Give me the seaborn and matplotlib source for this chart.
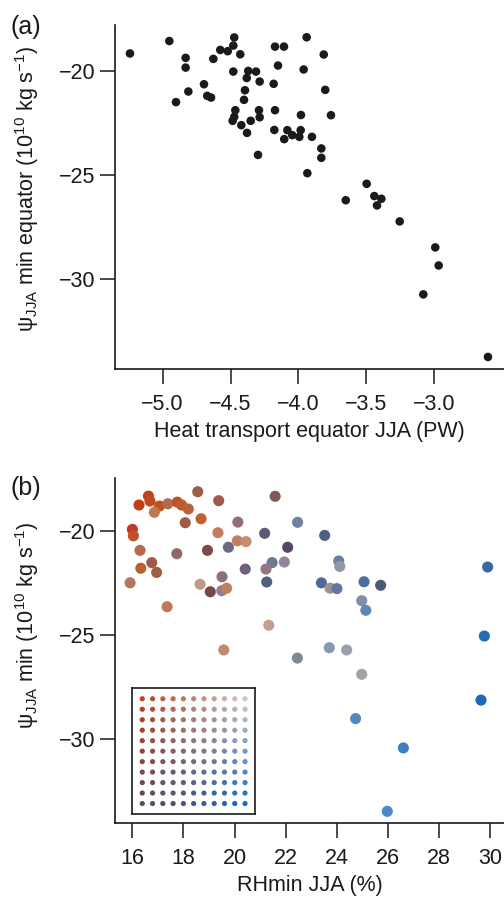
import numpy as np
import pandas as pd
import matplotlib
matplotlib.use("Agg")
import matplotlib.pyplot as plt
from matplotlib.colors import to_rgb
import seaborn as sns

# ---------------- data: panel (a) ----------------
heat_transport_a = [
    -5.241, -4.951, -4.831, -4.831, -4.902, -4.811, -4.696, -4.672, -4.644, -4.627,
    -4.576, -4.521, -4.480, -4.473, -4.429, -4.480, -4.370, -4.381, -4.313, -4.286,
    -4.394, -4.401, -4.465, -4.473, -4.485, -4.421, -4.379, -4.352, -4.291, -4.286,
    -4.298, -4.173, -4.107, -4.151, -4.183, -4.173, -4.178, -4.082, -4.105, -4.046,
    -3.994, -3.984, -3.982, -3.940, -3.962, -3.901, -3.814, -3.803, -3.761, -3.832,
    -3.832, -3.935, -3.652, -3.498, -3.442, -3.390, -3.422, -3.255, -2.993, -2.968,
    -3.081, -2.605,
]
psi_equator_a = [
    -19.17, -18.57, -19.38, -19.85, -21.51, -21.00, -20.65, -21.21, -21.29, -19.43,
    -19.00, -19.06, -18.79, -18.40, -19.21, -20.04, -20.01, -20.35, -20.04, -20.52,
    -20.94, -21.40, -21.90, -22.22, -22.41, -22.62, -22.99, -22.41, -21.90, -22.24,
    -24.05, -18.84, -18.84, -19.75, -20.63, -21.90, -22.85, -22.86, -23.29, -23.10,
    -23.18, -22.86, -22.13, -18.39, -19.94, -23.18, -19.22, -20.92, -22.14, -23.74,
    -24.19, -24.93, -26.23, -25.44, -26.03, -26.16, -26.48, -27.25, -28.50, -29.37,
    -30.76, -33.77,
]

# ---------------- data: panel (b) ----------------
rhmin_b = [
    18.56, 16.63, 16.69, 16.26, 17.06, 16.86, 17.39, 17.76, 17.93, 18.19,
    19.38, 21.59, 16.00, 16.04, 18.07, 18.69, 20.13, 19.35, 21.18, 22.47,
    16.30, 17.74, 18.94, 19.76, 20.11, 20.45, 22.08, 16.76, 16.33, 16.95,
    15.91, 19.51, 20.42, 21.47, 21.23, 21.95, 18.65, 19.05, 19.50, 19.69,
    21.26, 17.36, 21.34, 19.58,
    23.53, 24.08, 24.12, 23.40, 23.74, 24.01, 25.07, 25.72, 24.98, 25.14,
    29.91, 29.78, 23.71, 24.39,
    22.46, 24.98, 29.65, 24.74, 26.61, 25.98,
]
psi_min_b = [
    -18.11, -18.32, -18.56, -18.75, -18.80, -19.10, -18.69, -18.61, -18.75, -18.94,
    -18.54, -18.33, -19.92, -20.23, -19.60, -19.41, -19.57, -20.08, -20.11, -19.58,
    -20.93, -21.09, -20.93, -20.78, -20.47, -20.51, -20.78, -21.52, -21.79, -21.99,
    -22.49, -22.20, -21.83, -21.52, -21.83, -21.49, -22.56, -22.92, -22.87, -22.75,
    -22.45, -23.64, -24.53, -25.72,
    -20.21, -21.44, -21.70, -22.49, -22.75, -22.77, -22.44, -22.61, -23.35, -23.81,
    -21.73, -25.05, -25.61, -25.72,
    -26.11, -26.89, -28.13, -29.02, -30.43, -33.48,
]
# colour of each point (bivariate colour code)
point_colors_b = [
    "#a05a48", "#c0401a", "#c04a20", "#c0401a", "#c05020", "#c07850", "#b06a50", "#c05020", "#c05a2a", "#b86038",
    "#a05a48", "#805858", "#c03a20", "#c05028", "#a05a48", "#c06030", "#907080", "#c08060", "#605878", "#7080a0",
    "#b86848", "#906868", "#804848", "#706880", "#c08060", "#c09070", "#584860", "#a05a48", "#b86030", "#a06048",
    "#b07860", "#907078", "#706078", "#707890", "#907880", "#908898", "#c09a88", "#784848", "#908090", "#c08060",
    "#506080", "#c07858", "#c0a090", "#c08a72",
    "#506080", "#6a7fa0", "#9098a8", "#50689a", "#a09090", "#6078a0", "#4a70a0", "#4a5878", "#8090a8", "#5a88b8",
    "#3a68a0", "#2070b8", "#8898b0", "#9aa0aa",
    "#808898", "#a8a0a8", "#1a6ab8", "#5088c0", "#4080c0", "#4a88c8",
]

xticks_a = [-5.0, -4.5, -4.0, -3.5, -3.0]
yticks = [-20, -25, -30]
xticks_b = [16, 18, 20, 22, 24, 26, 28, 30]

# bivariate legend corner colours
corner_tl, corner_tr = "#c0401a", "#c8c8c8"
corner_bl, corner_br = "#5e4a5e", "#1a6cbe"
n_grid = 11

# ---------------- style ----------------
sns.set_style("ticks")
plt.rcParams["font.family"] = ["Liberation Sans", "DejaVu Sans"]
plt.rcParams["mathtext.fontset"] = "custom"
plt.rcParams["mathtext.rm"] = "Liberation Sans"
plt.rcParams["mathtext.it"] = "Liberation Sans:italic"
plt.rcParams["mathtext.bf"] = "Liberation Sans:bold"
ink = "#1a1a1a"
for k in ["text.color", "axes.labelcolor", "xtick.color", "ytick.color", "axes.edgecolor"]:
    plt.rcParams[k] = ink

FS = 15.5
fig = plt.figure(figsize=(5.04, 8.97), dpi=100)
W, H = 504.0, 897.0
axA = fig.add_axes([115 / W, 1 - 369 / H, 389 / W, 344 / H])
axB = fig.add_axes([115 / W, 1 - 823 / H, 389 / W, 345 / H])

# panel (a)
dfa = pd.DataFrame({"heat": heat_transport_a, "psi": psi_equator_a})
sns.scatterplot(data=dfa, x="heat", y="psi", ax=axA, color=ink, s=38,
                linewidth=0, edgecolor="none")
axA.set_xlim(-5.351, -2.487)
axA.set_ylim(-34.35, -17.8)
axA.set_xticks(xticks_a)
axA.set_yticks(yticks)

# panel (b)
dfb = pd.DataFrame({"rh": rhmin_b, "psi": psi_min_b,
                    "pid": [str(i) for i in range(len(rhmin_b))]})
pal = {str(i): c for i, c in enumerate(point_colors_b)}
sns.scatterplot(data=dfb, x="rh", y="psi", hue="pid", palette=pal, ax=axB,
                s=64, linewidth=0, edgecolor="none", legend=False)
axB.set_xlim(15.32, 30.55)
axB.set_ylim(-34.04, -17.45)
axB.set_xticks(xticks_b)
axB.set_yticks(yticks)

for ax in (axA, axB):
    sns.despine(ax=ax)
    for sp in ("left", "bottom"):
        ax.spines[sp].set_linewidth(1.2)
        ax.spines[sp].set_color(ink)
    ax.tick_params(direction="out", length=10.5, width=1.1, labelsize=FS, color=ink)
    ax.tick_params(axis="x", pad=7.5)
    ax.tick_params(axis="y", pad=3.5)

axA.set_xlabel("Heat transport equator JJA (PW)", fontsize=FS, labelpad=4)
axA.set_ylabel("ψ$_{\\mathrm{JJA}}$ min equator (10$^{10}$ kg s$^{-1}$)", fontsize=FS)
axA.yaxis.set_label_coords(-0.19, 0.525)
axB.set_xlabel("RHmin JJA (%)", fontsize=FS, labelpad=4)
axB.set_ylabel("ψ$_{\\mathrm{JJA}}$ min (10$^{10}$ kg s$^{-1}$)", fontsize=FS)
axB.yaxis.set_label_coords(-0.19, 0.574)

fig.text(10 / W, 1 - 15 / H, "(a)", fontsize=18, ha="left", va="top")
fig.text(10 / W, 1 - 476 / H, "(b)", fontsize=18, ha="left", va="top")

# bivariate colour key (inset)
axL = fig.add_axes([132.3 / W, 1 - 814 / H, 122.7 / W, 125.7 / H])
cols, rows = np.meshgrid(np.arange(n_grid), np.arange(n_grid))
cols, rows = cols.ravel(), rows.ravel()
u, v = cols / (n_grid - 1), rows / (n_grid - 1)
tl, tr, bl, br = (np.array(to_rgb(c)) for c in (corner_tl, corner_tr, corner_bl, corner_br))
rgb = ((1 - u) * (1 - v))[:, None] * tl + (u * (1 - v))[:, None] * tr \
    + ((1 - u) * v)[:, None] * bl + (u * v)[:, None] * br
dfl = pd.DataFrame({"c": cols, "r": rows, "k": [str(i) for i in range(len(cols))]})
sns.scatterplot(data=dfl, x="c", y="r", hue="k",
                palette={str(i): tuple(rgb[i]) for i in range(len(cols))},
                ax=axL, s=14, linewidth=0, edgecolor="none", legend=False)
axL.set_xlim(-0.97, 10.97)
axL.set_ylim(11.0, -1.0)
axL.set_xticks([])
axL.set_yticks([])
axL.set_xlabel("")
axL.set_ylabel("")
for sp in axL.spines.values():
    sp.set_visible(True)
    sp.set_linewidth(1.2)
    sp.set_color(ink)

fig.savefig("out.png", dpi=100)
